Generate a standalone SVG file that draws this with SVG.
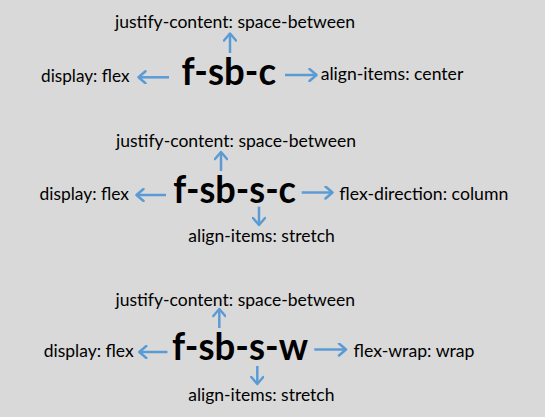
<svg xmlns="http://www.w3.org/2000/svg" width="545" height="417" viewBox="0 0 545 417">
<defs>
<marker id="ah" markerUnits="userSpaceOnUse" markerWidth="12" markerHeight="14" refX="9" refY="7" orient="auto">
<path d="M2,1 L9,7 L2,13" fill="none" stroke="#5b9bd5" stroke-width="2.5" stroke-linecap="round" stroke-linejoin="round"/>
</marker>
<style>
.t{font-family:Lato,"Open Sans","Liberation Sans",sans-serif;font-size:17.5px;fill:#000}
.b{font-family:Lato,"Open Sans","Liberation Sans",sans-serif;font-size:38px;font-weight:bold;fill:#000}
.c{stroke:#5b9bd5;stroke-width:2.5;fill:none;marker-end:url(#ah)}
</style>
</defs>
<rect width="545" height="417" fill="#d9d9d9"/>
<g id="g1">
<text class="b" x="181.5" y="85" textLength="94.5" lengthAdjust="spacingAndGlyphs">f-sb-c</text>
<text class="t" x="115" y="27.5" textLength="240" lengthAdjust="spacingAndGlyphs">justify-content: space-between</text>
<text class="t" x="41" y="82.3" textLength="88.5" lengthAdjust="spacingAndGlyphs">display: flex</text>
<text class="t" x="320.7" y="80" textLength="142.6" lengthAdjust="spacingAndGlyphs">align-items: center</text>
</g>
<g id="g2">
<text class="b" x="173.3" y="203.3" textLength="122.7" lengthAdjust="spacingAndGlyphs">f-sb-s-c</text>
<text class="t" x="116" y="146.7" textLength="240" lengthAdjust="spacingAndGlyphs">justify-content: space-between</text>
<text class="t" x="39.5" y="200" textLength="89.5" lengthAdjust="spacingAndGlyphs">display: flex</text>
<text class="t" x="339.3" y="200" textLength="169" lengthAdjust="spacingAndGlyphs">flex-direction: column</text>
<text class="t" x="188.3" y="241.7" textLength="146.5" lengthAdjust="spacingAndGlyphs">align-items: stretch</text>
</g>
<g id="g3">
<text class="b" x="172" y="359.5" textLength="136" lengthAdjust="spacingAndGlyphs">f-sb-s-w</text>
<text class="t" x="115.5" y="305.7" textLength="239.5" lengthAdjust="spacingAndGlyphs">justify-content: space-between</text>
<text class="t" x="43.7" y="357" textLength="90" lengthAdjust="spacingAndGlyphs">display: flex</text>
<text class="t" x="353.5" y="356.5" textLength="121" lengthAdjust="spacingAndGlyphs">flex-wrap: wrap</text>
<text class="t" x="188.2" y="401" textLength="146.3" lengthAdjust="spacingAndGlyphs">align-items: stretch</text>
</g>
<g id="connectors">
<line class="c" x1="230" y1="53" x2="230" y2="33.5"/>
<line class="c" x1="169" y1="77.3" x2="138.5" y2="77.3"/>
<line class="c" x1="285" y1="75" x2="316.5" y2="75"/>
<line class="c" x1="221" y1="171" x2="221" y2="152"/>
<line class="c" x1="166" y1="195" x2="136.5" y2="195"/>
<line class="c" x1="301.7" y1="192.5" x2="332.5" y2="192.5"/>
<line class="c" x1="259" y1="206.7" x2="259" y2="225"/>
<line class="c" x1="219.3" y1="328" x2="219.3" y2="309"/>
<line class="c" x1="167.4" y1="352" x2="139.3" y2="352"/>
<line class="c" x1="314.3" y1="349.5" x2="346" y2="349.5"/>
<line class="c" x1="257.3" y1="366" x2="257.3" y2="384"/>
</g>
</svg>
